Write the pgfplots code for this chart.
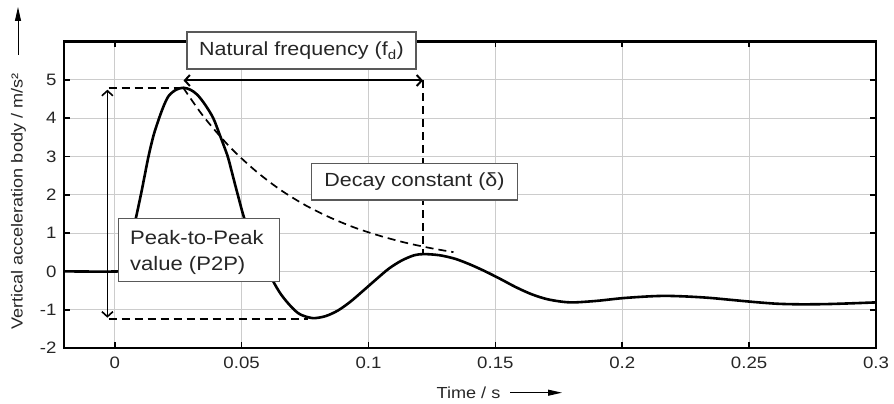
\documentclass[border=0pt]{standalone}
\usepackage{fontspec}
\setmainfont{Liberation Sans}[FakeStretch=1.13]
\usepackage{pgfplots}
\pgfplotsset{compat=1.18}
\usetikzlibrary{arrows.meta}
\begin{document}
\begin{tikzpicture}
\path[use as bounding box] (0pt,0pt) rectangle (894pt,404pt);
\begin{axis}[
  at={(64pt,56pt)}, anchor=south west,
  width=812pt, height=306.6pt, scale only axis,
  xmin=-0.02, xmax=0.3, ymin=-2, ymax=6,
  xtick={0,0.05,0.1,0.15,0.2,0.25,0.3},
  xticklabels={0,0.05,0.1,0.15,0.2,0.25,0.3},
  ytick={-2,-1,0,1,2,3,4,5},
  grid=major, major grid style={line width=0.9pt, black!20},
  tick align=inside, tick pos=both, major tick length=6pt,
  every tick/.style={line width=1.7pt, black},
  axis line style={line width=2.2pt},
  tick label style={font=\fontsize{16.5}{19}\selectfont, text=black!85},
  /pgf/number format/assume math mode=true,
  xticklabel style={yshift=-5pt},
  yticklabel style={xshift=-4pt},
]
\addplot[line width=2.6pt, smooth, tension=0.5] coordinates {
(-0.02,0)(0.002,0)(0.0035,0.1)(0.005,0.42)(0.0065,0.87)(0.0083,1.38)(0.0103,2.0)(0.0118,2.5)(0.0133,3.0)(0.0153,3.55)(0.0175,4.0)(0.0195,4.35)(0.0214,4.59)(0.0242,4.74)(0.027,4.79)(0.0298,4.74)(0.0325,4.61)(0.0355,4.36)(0.0388,4.0)(0.0415,3.54)(0.0445,3.0)(0.0465,2.5)(0.0484,2.02)(0.0513,1.33)(0.055,0.76)(0.0585,0.27)(0.0622,-0.23)(0.0655,-0.6)(0.0695,-0.92)(0.073,-1.12)(0.078,-1.22)(0.083,-1.17)(0.088,-1.02)(0.093,-0.785)(0.098,-0.5)(0.103,-0.21)(0.108,0.07)(0.113,0.28)(0.118,0.42)(0.122,0.45)(0.128,0.42)(0.134,0.33)(0.140,0.18)(0.146,0.0)(0.152,-0.2)(0.158,-0.41)(0.164,-0.59)(0.170,-0.72)(0.176,-0.79)(0.181,-0.81)(0.19,-0.77)(0.2,-0.70)(0.21,-0.655)(0.217,-0.64)(0.225,-0.655)(0.234,-0.69)(0.243,-0.745)(0.252,-0.80)(0.261,-0.845)(0.27,-0.86)(0.28,-0.855)(0.29,-0.835)(0.3,-0.81)
};
\addplot[line width=1.7pt, dash pattern=on 8pt off 5pt] coordinates {(-0.0024,4.79)(0.027,4.79)};
\addplot[line width=1.7pt, dash pattern=on 8pt off 5pt] coordinates {(-0.0024,-1.25)(0.076,-1.25)};
\addplot[line width=1.7pt, dash pattern=on 8pt off 5pt] coordinates {(0.1215,4.98)(0.1215,0.46)};
\addplot[line width=1.7pt, dash pattern=on 8pt off 5pt, smooth] coordinates {
(0.027,4.79)(0.035,4.04)(0.045,3.27)(0.055,2.65)(0.065,2.14)(0.075,1.73)(0.085,1.40)(0.095,1.13)(0.105,0.917)(0.115,0.741)(0.125,0.600)(0.1335,0.501)
};
\addplot[line width=1.6pt, {Straight Barb[length=5pt,width=11pt]}-{Straight Barb[length=5pt,width=11pt]}] coordinates {(-0.0029,4.74)(-0.0029,-1.21)};
\addplot[line width=2pt, {Straight Barb[length=5pt,width=11pt]}-{Straight Barb[length=5pt,width=11pt]}] coordinates {(0.0271,4.98)(0.1215,4.98)};
\end{axis}
% annotation boxes
\draw[draw=black!65, line width=1.1pt, fill=white] (187pt,335pt) rectangle (416pt,372pt);
\node[font=\fontsize{19}{22}\selectfont, text=black!85] at (301.5pt,353.5pt) {Natural frequency (f\textsubscript{d})};
\draw[draw=black!65, line width=1.1pt, fill=white] (311.7pt,204pt) rectangle (517.3pt,240.7pt);
\node[font=\fontsize{19}{22}\selectfont, text=black!85] at (414.5pt,222.3pt) {Decay constant (δ)};
\draw[draw=black!65, line width=1.1pt, fill=white] (118.3pt,122.3pt) rectangle (279.3pt,185.7pt);
\node[font=\fontsize{19.5}{22}\selectfont, text=black!85, anchor=base west, inner sep=0pt] at (130pt,159.7pt) {Peak-to-Peak};
\node[font=\fontsize{19.5}{22}\selectfont, text=black!85, anchor=base west, inner sep=0pt] at (130pt,133.3pt) {value (P2P)};
% axis labels
\node[rotate=90, anchor=base west, inner sep=0pt, font=\fontsize{16}{19}\selectfont, text=black!85] at (22.5pt,74pt) {Vertical acceleration body / m/s²};
\draw[line width=1pt, -{Triangle[length=14pt,width=6pt]}] (18pt,349pt) -- (18pt,397pt);
\node[anchor=base west, inner sep=0pt, font=\fontsize{16}{19}\selectfont, text=black!85] at (436.5pt,5.7pt) {Time / s};
\draw[line width=1pt, -{Triangle[length=14pt,width=6pt]}] (510pt,11.3pt) -- (562pt,11.3pt);
\end{tikzpicture}
\end{document}
